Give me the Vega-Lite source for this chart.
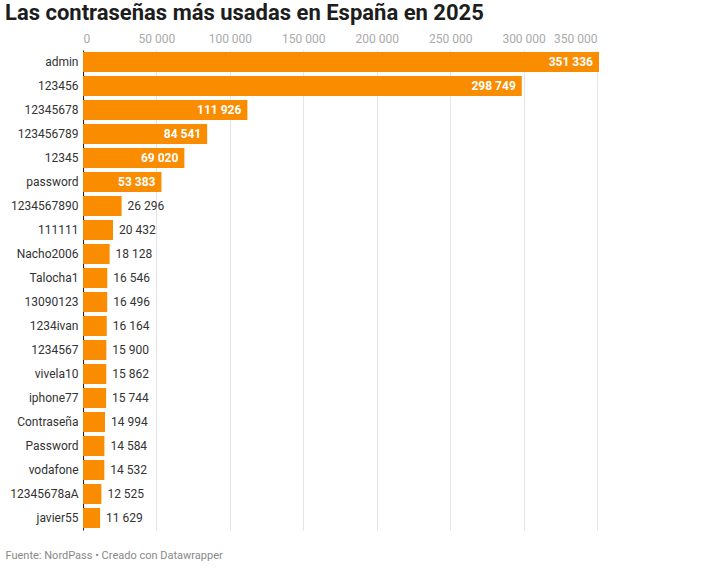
{
  "$schema": "https://vega.github.io/schema/vega-lite/v6.json",
  "width": 516,
  "height": 480,
  "padding": {"left": 5, "top": 2, "right": 5, "bottom": 5},
  "title": {
    "text": "Las contraseñas más usadas en España en 2025",
    "anchor": "start",
    "frame": "bounds",
    "font": "Roboto",
    "fontSize": 22,
    "fontWeight": "bold",
    "color": "#1d1d1d",
    "offset": 7
  },
  "config": {
    "locale": {"number": {"decimal": ",", "thousands": " ", "grouping": [3], "currency": ["", " €"]}},
    "font": "Roboto",
    "view": {"stroke": null}
  },
  "data": {
    "values": [
      {"password": "admin", "count": 351336},
      {"password": "123456", "count": 298749},
      {"password": "12345678", "count": 111926},
      {"password": "123456789", "count": 84541},
      {"password": "12345", "count": 69020},
      {"password": "password", "count": 53383},
      {"password": "1234567890", "count": 26296},
      {"password": "111111", "count": 20432},
      {"password": "Nacho2006", "count": 18128},
      {"password": "Talocha1", "count": 16546},
      {"password": "13090123", "count": 16496},
      {"password": "1234ivan", "count": 16164},
      {"password": "1234567", "count": 15900},
      {"password": "vivela10", "count": 15862},
      {"password": "iphone77", "count": 15744},
      {"password": "Contraseña", "count": 14994},
      {"password": "Password", "count": 14584},
      {"password": "vodafone", "count": 14532},
      {"password": "12345678aA", "count": 12525},
      {"password": "javier55", "count": 11629}
    ]
  },
  "encoding": {
    "y": {
      "field": "password",
      "type": "nominal",
      "sort": null,
      "title": null,
      "scale": {"paddingInner": 0.1667, "paddingOuter": 0.083},
      "axis": {
        "domain": true,
        "domainColor": "#222",
        "domainWidth": 1,
        "ticks": false,
        "grid": false,
        "labelPadding": 5,
        "labelFontSize": 12,
        "labelColor": "#333",
        "labelFont": "Roboto"
      }
    }
  },
  "layer": [
    {
      "mark": {"type": "bar", "color": "#fa8c00"},
      "encoding": {
        "x": {
          "field": "count",
          "type": "quantitative",
          "title": null,
          "scale": {"nice": false},
          "axis": {
            "orient": "top",
            "format": ",d",
            "values": [0, 50000, 100000, 150000, 200000, 250000, 300000, 350000],
            "domain": false,
            "ticks": false,
            "grid": true,
            "gridColor": "#e5e5e5",
            "labelColor": "#aaa",
            "labelFontSize": 12,
            "labelPadding": 5,
            "labelFlush": 3
          }
        }
      }
    },
    {
      "transform": [{"filter": "datum.count >= 50000"}],
      "mark": {"type": "text", "align": "right", "dx": -6, "color": "white", "fontWeight": "bold", "fontSize": 12},
      "encoding": {
        "x": {
          "field": "count",
          "type": "quantitative",
          "scale": {"nice": false},
          "title": "Fuente: NordPass • Creado con Datawrapper",
          "axis": {
            "orient": "bottom",
            "labels": false,
            "ticks": false,
            "domain": false,
            "grid": false,
            "titleAnchor": "start",
            "titleAlign": "left",
            "titleX": -78,
            "titleY": 19,
            "titleFontSize": 11,
            "titleFontWeight": "normal",
            "titleColor": "#888"
          }
        },
        "text": {"field": "count", "type": "quantitative", "format": ",d"}
      }
    },
    {
      "transform": [{"filter": "datum.count < 50000"}],
      "mark": {"type": "text", "align": "left", "dx": 6, "color": "#333", "fontSize": 12},
      "encoding": {
        "x": {"field": "count", "type": "quantitative", "scale": {"nice": false}, "axis": null},
        "text": {"field": "count", "type": "quantitative", "format": ",d"}
      }
    }
  ]
}
